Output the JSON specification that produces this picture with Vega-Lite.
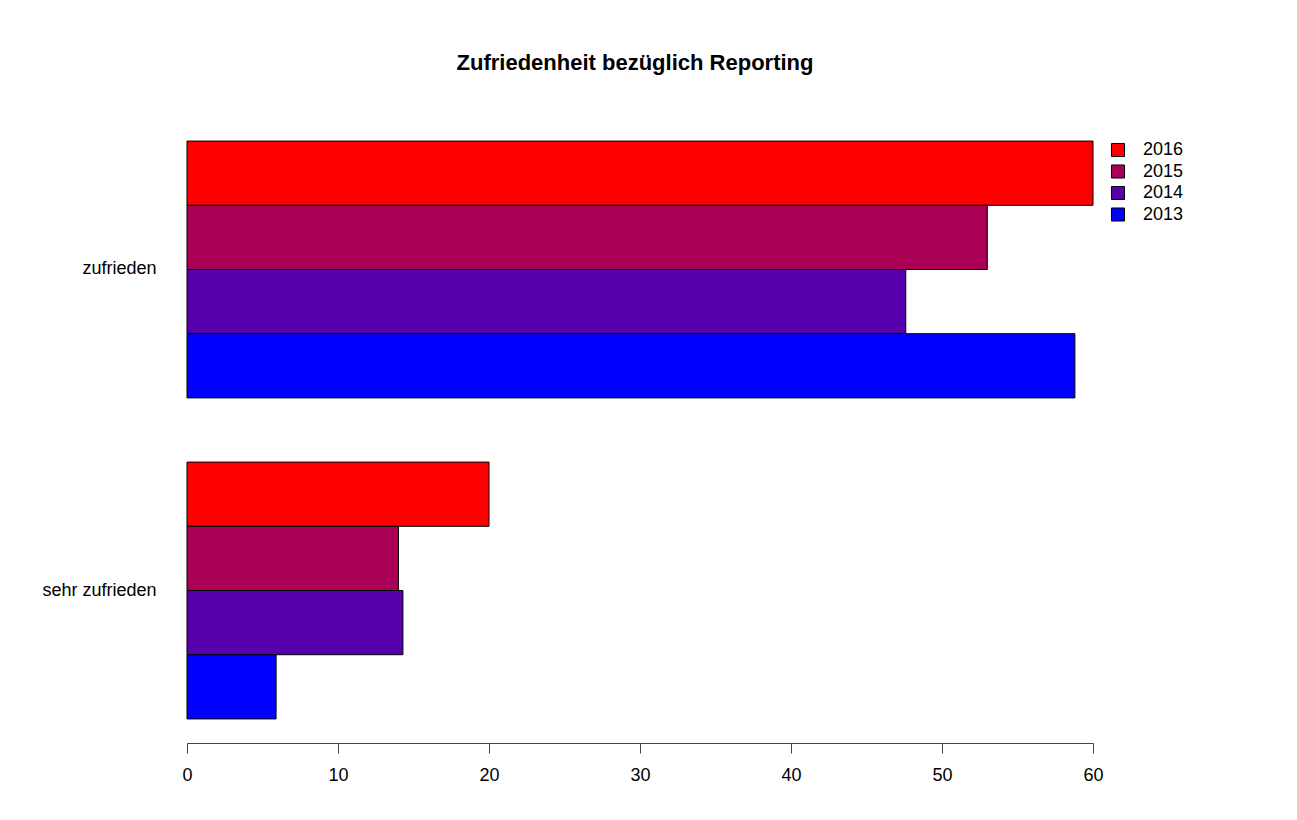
{
  "$schema": "https://vega.github.io/schema/vega-lite/v6.json",
  "autosize": "none",
  "width": 906,
  "height": 626,
  "padding": {"left": 187, "top": 117, "right": 204, "bottom": 77},
  "background": "white",
  "title": {
    "text": "Zufriedenheit bezüglich Reporting",
    "font": "Liberation Sans",
    "fontSize": 22,
    "fontWeight": "bold",
    "color": "black",
    "anchor": "middle",
    "dx": -5,
    "offset": 42
  },
  "data": {
    "values": [
      {"cat": "zufrieden", "year": "2016", "value": 60},
      {"cat": "zufrieden", "year": "2015", "value": 53},
      {"cat": "zufrieden", "year": "2014", "value": 47.6},
      {"cat": "zufrieden", "year": "2013", "value": 58.8},
      {"cat": "sehr zufrieden", "year": "2016", "value": 20},
      {"cat": "sehr zufrieden", "year": "2015", "value": 14},
      {"cat": "sehr zufrieden", "year": "2014", "value": 14.3},
      {"cat": "sehr zufrieden", "year": "2013", "value": 5.9}
    ]
  },
  "config": {
    "view": {"stroke": null},
    "font": "Liberation Sans"
  },
  "mark": {"type": "bar", "stroke": "black", "strokeWidth": 1},
  "encoding": {
    "x": {
      "field": "value",
      "type": "quantitative",
      "scale": {"domain": [0, 60], "nice": false, "zero": true},
      "axis": {
        "title": null,
        "values": [0, 10, 20, 30, 40, 50, 60],
        "grid": false,
        "tickSize": 10,
        "labelPadding": 13,
        "labelFlush": false,
        "labelFontSize": 18,
        "labelColor": "black",
        "domainColor": "#444",
        "tickColor": "#444",
        "labelFont": "Liberation Sans"
      }
    },
    "y": {
      "field": "cat",
      "type": "nominal",
      "sort": ["zufrieden", "sehr zufrieden"],
      "scale": {"paddingInner": 0.2, "paddingOuter": 0.075},
      "axis": {
        "title": null,
        "ticks": false,
        "domain": false,
        "labelPadding": 31,
        "labelFontSize": 18,
        "labelColor": "black",
        "labelFont": "Liberation Sans"
      }
    },
    "yOffset": {
      "field": "year",
      "type": "nominal",
      "sort": ["2016", "2015", "2014", "2013"],
      "scale": {"paddingInner": 0, "paddingOuter": 0}
    },
    "color": {
      "field": "year",
      "type": "nominal",
      "scale": {
        "domain": ["2016", "2015", "2014", "2013"],
        "range": ["#FF0000", "#AA0055", "#5500AA", "#0000FF"]
      },
      "legend": {
        "title": null,
        "orient": "none",
        "legendX": 922,
        "legendY": 24,
        "symbolType": "square",
        "symbolSize": 170,
        "symbolStrokeColor": "black",
        "symbolStrokeWidth": 1,
        "symbolOpacity": 1,
        "labelFontSize": 18,
        "labelColor": "black",
        "labelOffset": 16,
        "rowPadding": 3.5,
        "labelFont": "Liberation Sans"
      }
    }
  }
}
